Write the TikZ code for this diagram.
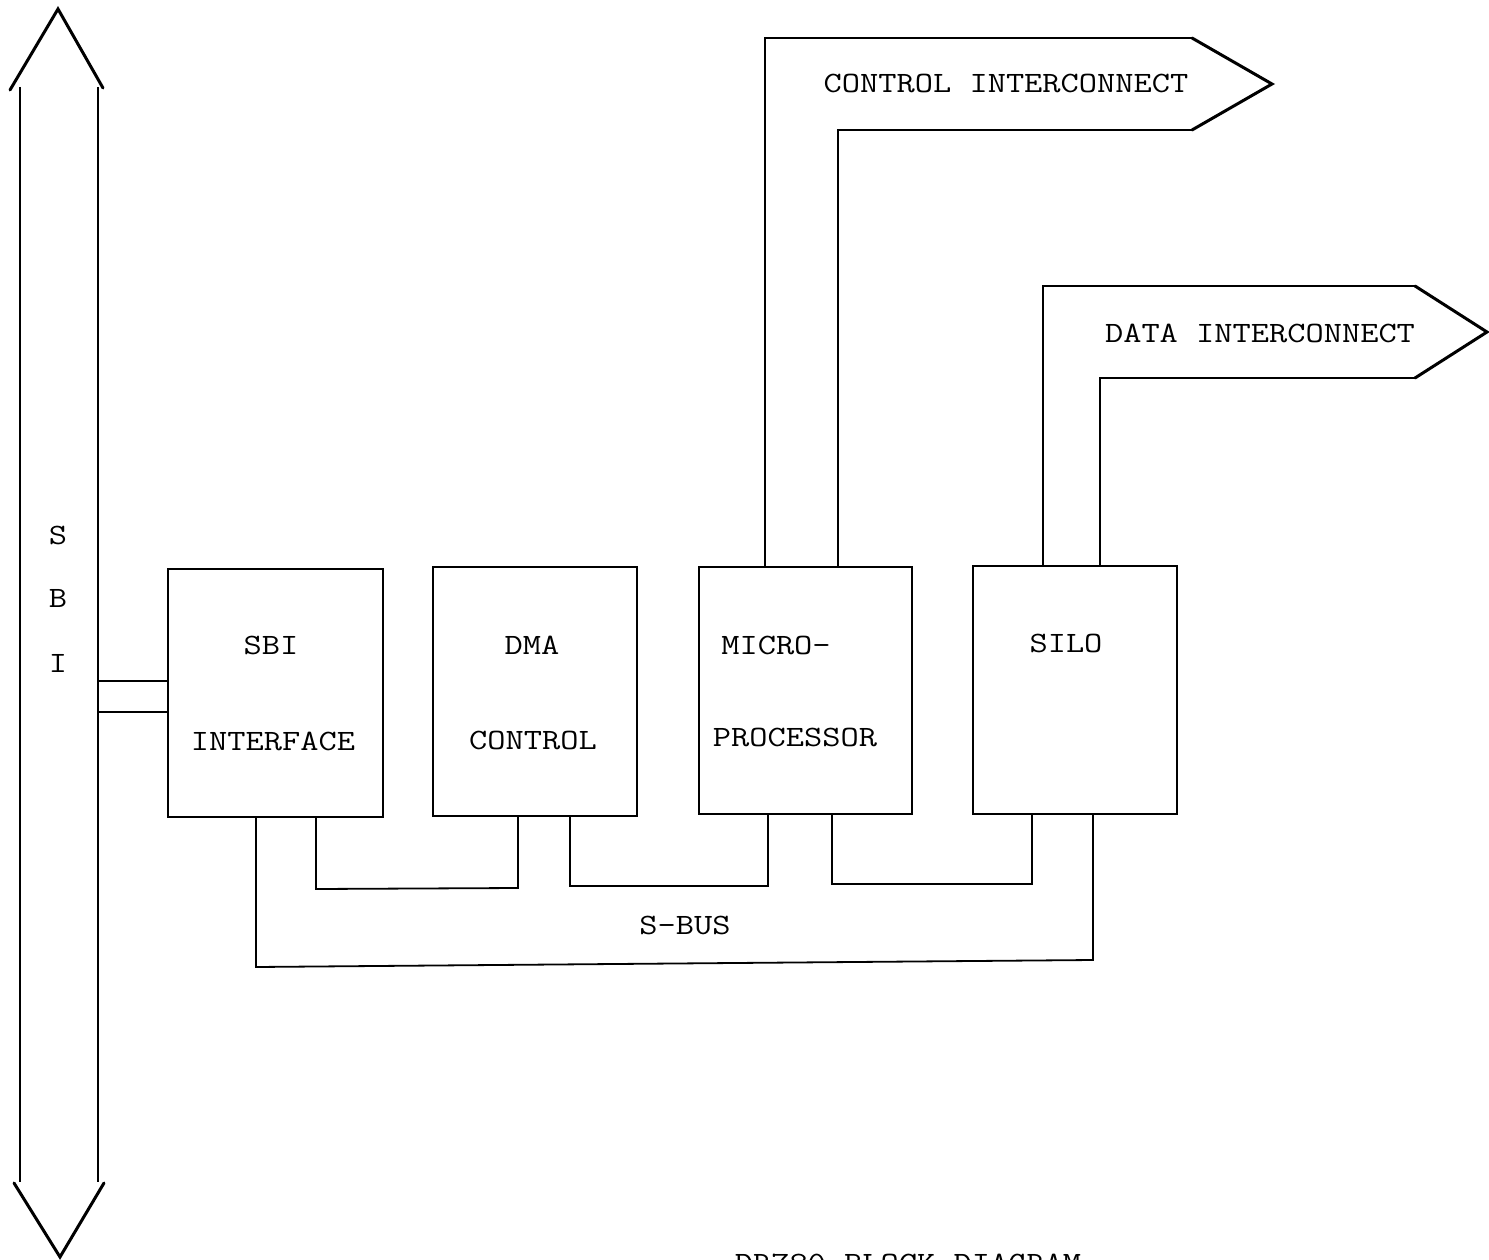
\documentclass[tikz,border=0pt]{standalone}
\usepackage{fontspec}
\usetikzlibrary{calc}
\newcommand{\tw}[1]{\scalebox{1.2}[1]{#1}}
\begin{document}
\begin{tikzpicture}[x=1pt,y=-1pt,
  ln/.style={line width=1.8pt, line join=miter},
  head/.style={line width=3pt, line join=miter, line cap=round},
  box/.style={draw, line width=1.8pt, inner sep=0pt, outer sep=0pt},
  lbl/.style={inner sep=0pt, anchor=base, font=\fontsize{29.5}{35}\selectfont\ttfamily\addfontfeature{FakeBold=1.2}}]
\useasboundingbox (0,0) rectangle (1489,1260);

% SBI bus (double arrow)
\draw[ln] (20,87) -- (20,1182);
\draw[ln] (98,87) -- (98,1182);
\draw[head] (10,90) -- (58,9) -- (103,88);
\draw[head] (14,1183) -- (60,1257) -- (104,1183);
\node[lbl] (tS) at (58,544) {\tw{S}};
\node[lbl] (tB) at (58,607) {\tw{B}};
\node[lbl] (tI) at (58,672) {\tw{I}};

% blocks
\node[box, minimum width=215pt, minimum height=248pt] (sbi) at (275.5,693) {};
\node[box, minimum width=204pt, minimum height=249pt] (dma) at (535,691.5) {};
\node[box, minimum width=213pt, minimum height=247pt] (micro) at (805.5,690.5) {};
\node[box, minimum width=204pt, minimum height=248pt] (silo) at (1075,690) {};

\node[lbl] (t1) at (271,654) {\tw{SBI}};
\node[lbl] (t2) at (273,750) {\tw{INTERFACE}};
\node[lbl] (t3) at (532,654) {\tw{DMA}};
\node[lbl] (t4) at (533,749) {\tw{CONTROL}};
\node[lbl] (t5) at (776,654) {\tw{MICRO-}};
\node[lbl] (t6) at (795,746) {\tw{PROCESSOR}};
\node[lbl] (t7) at (1066,652) {\tw{SILO}};

% SBI to interface links
\coordinate (s1) at (98,681);
\coordinate (s2) at (98,712);
\draw[ln] (s1) -- (sbi.west |- s1);
\draw[ln] (s2) -- (sbi.west |- s2);

% S-bus
\coordinate (c1) at (316,889);
\coordinate (c2) at (518,888);
\coordinate (c3) at (570,886);
\coordinate (c4) at (768,886);
\coordinate (c5) at (832,884);
\coordinate (c6) at (1032,884);
\coordinate (c7) at (256,967);
\coordinate (c8) at (1093,960);
\draw[ln] (sbi.south -| c1) -- (c1) -- (c2) -- (dma.south -| c2);
\draw[ln] (dma.south -| c3) -- (c3) -- (c4) -- (micro.south -| c4);
\draw[ln] (micro.south -| c5) -- (c5) -- (c6) -- (silo.south -| c6);
\draw[ln] (sbi.south -| c7) -- (c7) -- (c8) -- (silo.south -| c8);
\node[lbl] (tsbus) at (685,934) {\tw{S-BUS}};

% control interconnect
\coordinate (ci1) at (765,38);
\coordinate (ci2) at (1192,38);
\coordinate (ci3) at (1272,84);
\coordinate (ci4) at (1192,130);
\coordinate (ci5) at (838,130);
\draw[ln] (micro.north -| ci1) -- (ci1) -- (ci2);
\draw[head] (ci2) -- (ci3) -- (ci4);
\draw[ln] (ci4) -- (ci5) -- (micro.north -| ci5);
\node[lbl] (tci) at (1006,93) {\tw{CONTROL INTERCONNECT}};

% data interconnect
\coordinate (di1) at (1043,286);
\coordinate (di2) at (1415,286);
\coordinate (di3) at (1487,332);
\coordinate (di4) at (1415,378);
\coordinate (di5) at (1100,378);
\draw[ln] (silo.north -| di1) -- (di1) -- (di2);
\draw[head] (di2) -- (di3) -- (di4);
\draw[ln] (di4) -- (di5) -- (silo.north -| di5);
\node[lbl] (tdi) at (1260,342) {\tw{DATA INTERCONNECT}};

% caption (cut off at the bottom edge, as in the reference)
\node[lbl] (cap) at (908,1272) {\tw{DR780 BLOCK DIAGRAM}};
\end{tikzpicture}
\end{document}
